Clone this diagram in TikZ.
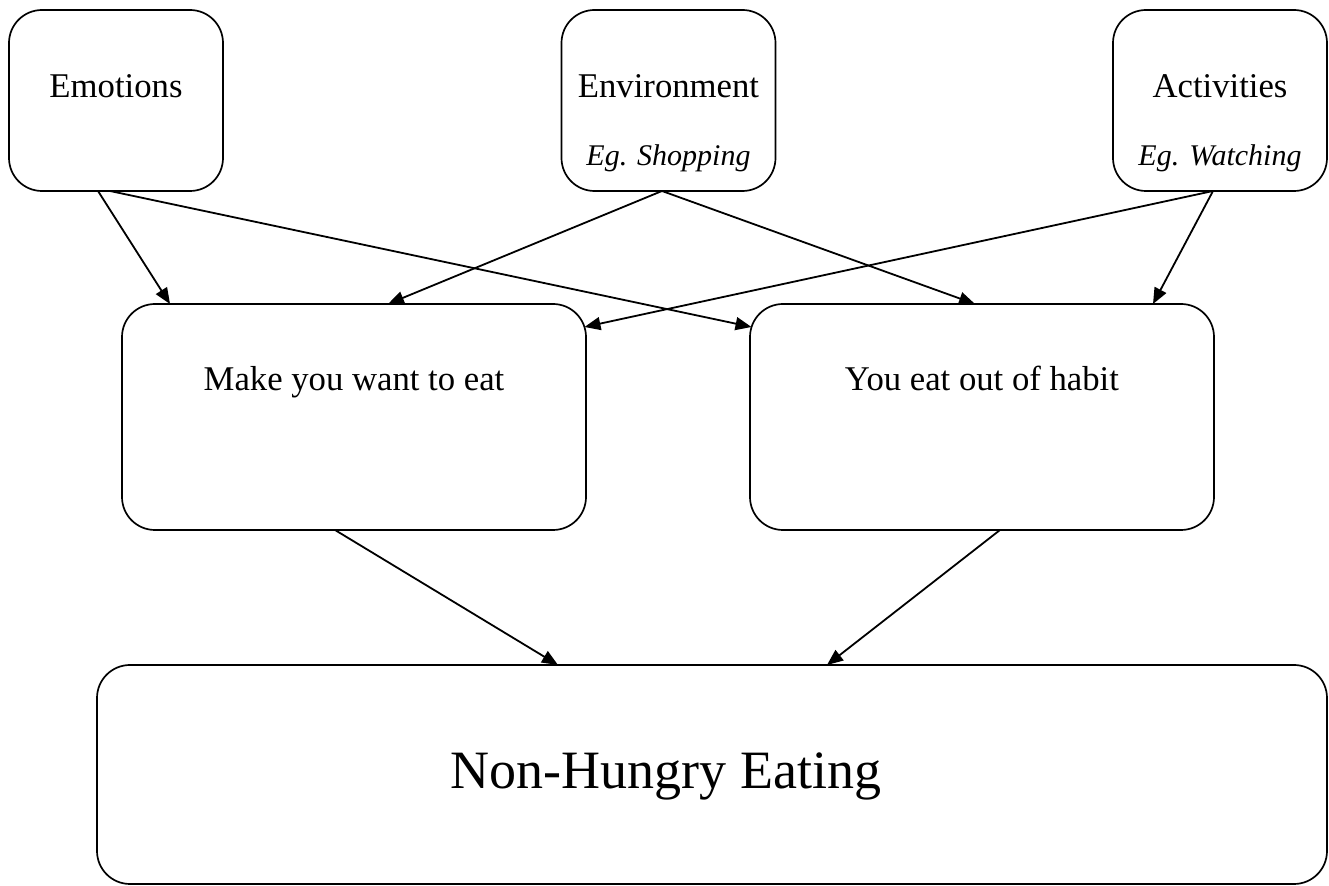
\documentclass[tikz,border=0pt]{standalone}
\usepackage{fontspec}
\setmainfont{Liberation Serif}
\usetikzlibrary{arrows.meta,calc}
\begin{document}
\begin{tikzpicture}[x=0.5pt,y=-0.5pt,
  box/.style={draw, line width=0.85pt, rounded corners=16.5pt, inner sep=0pt, outer sep=0pt},
  lbl/.style={inner sep=0pt, anchor=base, font=\fontsize{17.35}{20}\selectfont},
  sub/.style={inner sep=0pt, anchor=base, font=\fontsize{15}{18}\selectfont\itshape},
  big/.style={inner sep=0pt, anchor=base, font=\fontsize{27}{32}\selectfont},
  arr/.style={-{Triangle[length=8pt,width=6.5pt]}, line width=0.9pt}]
\useasboundingbox (0,0) rectangle (1329,886);
% boxes
\node[box, minimum width=107pt, minimum height=90.5pt] (emo) at (116,100.5) {};
\node[box, minimum width=107pt, minimum height=90.5pt] (env) at (668.5,100.5) {};
\node[box, minimum width=107pt, minimum height=90.5pt] (act) at (1220,100.5) {};
\node[box, minimum width=232pt, minimum height=113pt] (make) at (354,417) {};
\node[box, minimum width=232pt, minimum height=113pt] (habit) at (982,417) {};
\node[box, minimum width=615pt, minimum height=109.5pt] (nh) at (712,774.5) {};
% texts
\node[lbl] (emoT) at (116,98) {Emotions};
\node[lbl] (envT) at (668.5,98) {Environment};
\node[sub] (envS) at (668.5,166) {Eg. Shopping};
\node[lbl] (actT) at (1220,98) {Activities};
\node[sub] (actS) at (1220,166) {Eg. Watching};
\node[lbl] (makeT) at (354,391) {Make you want to eat};
\node[lbl] (habitT) at (982,391) {You eat out of habit};
\node[big] (nhT) at (666,789) {Non-Hungry Eating};
% connectors
\draw[arr] ($(emo.south)+(-18,0)$) -- ($(make.north)+(-184,0)$);
\draw[arr] ($(emo.south)+(-6,0)$) -- ($(habit.north west)+(1.5,23)$);
\draw[arr] ($(env.south)+(-6.5,0)$) -- ($(make.north)+(34,0)$);
\draw[arr] ($(env.south)+(-6.5,0)$) -- ($(habit.north)+(-7,0)$);
\draw[arr] ($(act.south)+(-7,0)$) -- ($(make.north east)+(-1.5,23)$);
\draw[arr] ($(act.south)+(-7,0)$) -- ($(habit.north)+(171,0)$);
\draw[arr] ($(make.south)+(-19,0)$) -- ($(nh.north west)+(461,0)$);
\draw[arr] ($(habit.south)+(18,0)$) -- ($(nh.north west)+(730,0)$);
\end{tikzpicture}
\end{document}
